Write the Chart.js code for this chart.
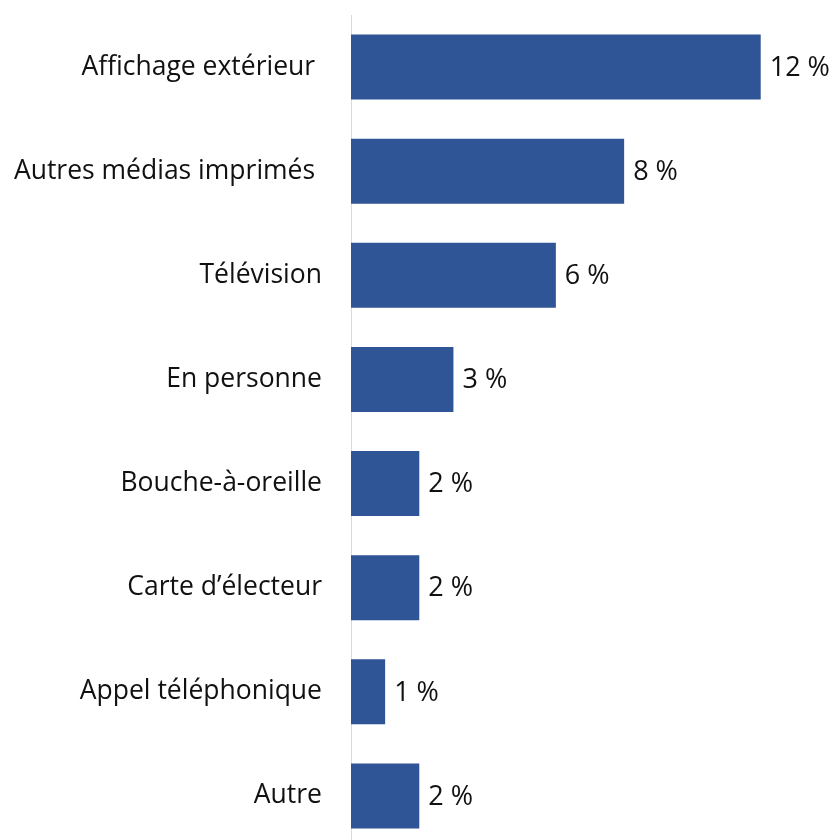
<!DOCTYPE html>
<html lang="fr">
<head>
<meta charset="utf-8">
<script src="https://cdn.jsdelivr.net/npm/chart.js@4/dist/chart.umd.min.js"></script>
<style>
  html, body { margin: 0; padding: 0; background: #fff; overflow: hidden; }
  #wrap { width: 835px; height: 848px; }
</style>
</head>
<body>
<div id="wrap"><canvas id="chart"></canvas></div>
<script>
// catégories et valeurs (%)
const categories = [
    'Affichage extérieur ',
    'Autres médias imprimés ',
    'Télévision',
    'En personne',
    'Bouche-à-oreille',
    'Carte d’électeur',
    'Appel téléphonique',
    'Autre'
];
const values = [12, 8, 6, 3, 2, 2, 1, 2];

const FONT = '"Open Sans", "Noto Sans", sans-serif';

// étiquettes de valeur à droite des barres
const valueLabels = {
    id: 'valueLabels',
    afterDatasetsDraw(chart) {
        const ctx = chart.ctx;
        const meta = chart.getDatasetMeta(0);
        ctx.save();
        ctx.font = '27px ' + FONT;
        ctx.fillStyle = '#111';
        ctx.textAlign = 'left';
        ctx.textBaseline = 'middle';
        meta.data.forEach((bar, i) => {
            ctx.fillText(values[i] + ' %', bar.x + 9, bar.y + 1);
        });
        ctx.restore();
    }
};

new Chart(document.getElementById('chart').getContext('2d'), {
    type: 'bar',
    data: {
        labels: categories,
        datasets: [{
            data: values,
            backgroundColor: '#2f5597',
            borderWidth: 0,
            barPercentage: 0.625,
            categoryPercentage: 1
        }]
    },
    options: {
        indexAxis: 'y',
        responsive: true,
        maintainAspectRatio: false,
        animation: false,
        layout: { padding: { top: 15, right: 6, bottom: 0, left: 0 } },
        plugins: {
            legend: { display: false },
            tooltip: { enabled: false }
        },
        scales: {
            x: {
                display: false,
                min: 0,
                max: 14
            },
            y: {
                grid: { display: false, drawTicks: false },
                border: { display: true, color: '#d9d9d9', width: 1 },
                ticks: {
                    color: '#111',
                    padding: 29,
                    font: { family: FONT, size: 26.5 }
                },
                afterFit(scale) {
                    scale.width = 351;
                    scale.paddingTop = 0;
                    scale.paddingBottom = 0;
                }
            }
        }
    },
    plugins: [valueLabels]
});
</script>
</body>
</html>
